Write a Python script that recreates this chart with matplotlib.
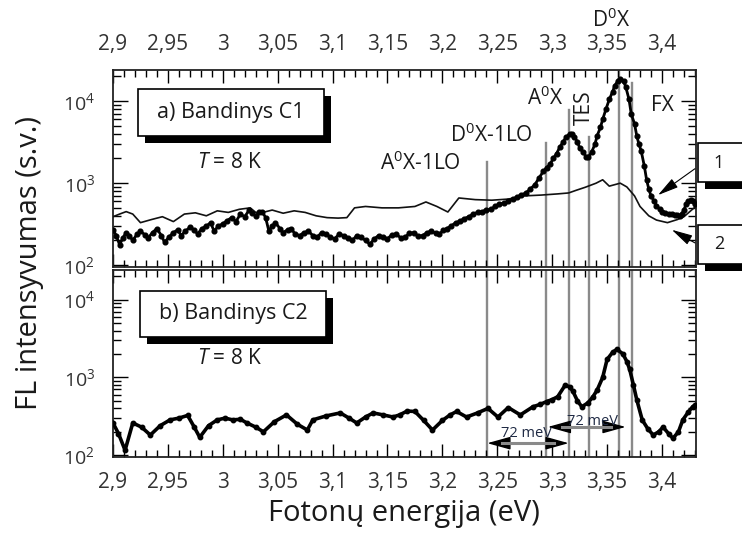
import numpy as np
import matplotlib.pyplot as plt
import matplotlib.transforms as mtransforms
from matplotlib.patches import Rectangle
from matplotlib.ticker import MultipleLocator, FuncFormatter, LogLocator, NullFormatter

plt.rcParams['font.family'] = ['Open Sans', 'DejaVu Sans']
plt.rcParams['mathtext.fontset'] = 'custom'
plt.rcParams['mathtext.rm'] = 'Open Sans'
plt.rcParams['mathtext.it'] = 'Open Sans:italic'
plt.rcParams['mathtext.default'] = 'regular'

# a) sample C1, curve 1 (dots)
c1_e = [2.900, 2.903, 2.906, 2.909, 2.912, 2.915, 2.918, 2.922, 2.925, 2.929, 2.932, 2.936,
        2.940, 2.944, 2.947, 2.951, 2.955, 2.959, 2.962, 2.966, 2.970, 2.974, 2.977, 2.981,
        2.985, 2.989, 2.992, 2.996, 3.000, 3.004, 3.008, 3.012, 3.016, 3.020, 3.024, 3.027,
        3.030, 3.033, 3.036, 3.039, 3.042, 3.045, 3.048, 3.052, 3.055, 3.059, 3.062, 3.066,
        3.070, 3.074, 3.078, 3.082, 3.086, 3.090, 3.094, 3.098, 3.102, 3.106, 3.110, 3.114,
        3.118, 3.122, 3.126, 3.130, 3.134, 3.138, 3.142, 3.146, 3.150, 3.154, 3.158, 3.162,
        3.166, 3.170, 3.174, 3.178, 3.182, 3.186, 3.190, 3.194, 3.197, 3.201, 3.204, 3.208,
        3.212, 3.216, 3.220, 3.224, 3.228, 3.232, 3.236, 3.240, 3.244, 3.248, 3.252, 3.256,
        3.260, 3.264, 3.268, 3.272, 3.276, 3.280, 3.284, 3.288, 3.292, 3.295, 3.298, 3.301,
        3.304, 3.307, 3.310, 3.313, 3.316, 3.318, 3.320, 3.323, 3.325, 3.328, 3.331, 3.333,
        3.336, 3.339, 3.341, 3.344, 3.346, 3.349, 3.352, 3.355, 3.357, 3.360, 3.362, 3.365,
        3.367, 3.370, 3.372, 3.375, 3.377, 3.379, 3.381, 3.384, 3.386, 3.388, 3.390, 3.393,
        3.395, 3.398, 3.400, 3.403, 3.406, 3.409, 3.412, 3.414, 3.416, 3.418, 3.420, 3.422,
        3.424, 3.426, 3.428, 3.430]
c1_i = [270, 230, 177, 215, 250, 230, 200, 240, 260, 235, 215, 250,
        280, 230, 190, 220, 250, 270, 230, 260, 290, 270, 240, 280,
        300, 330, 260, 300, 320, 350, 380, 340, 420, 390, 470, 430,
        400, 440, 450, 380, 260, 300, 330, 280, 250, 270, 280, 240,
        230, 250, 260, 230, 220, 250, 240, 220, 210, 240, 230, 215,
        200, 230, 220, 200, 180, 210, 230, 220, 210, 235, 240, 215,
        220, 245, 250, 225, 230, 250, 260, 245, 240, 265, 280, 300,
        330, 345, 370, 390, 420, 440, 450, 470, 480, 520, 560, 570,
        600, 640, 680, 720, 760, 850, 950, 1150, 1400, 1550, 1700, 2000,
        2300, 2750, 3200, 3700, 4000, 3950, 3700, 3200, 2700, 2400, 2100, 2080,
        2400, 3000, 3800, 4800, 6000, 8000, 10500, 13000, 15500, 17800, 18700, 17500,
        15000, 10500, 7000, 5300, 3800, 3000, 2500, 1600, 1100, 850, 700, 600,
        530, 480, 450, 430, 420, 415, 410, 405, 400, 420, 470, 560,
        600, 620, 610, 560]

# a) sample C1, curve 2 (thin line)
c1b_e = [2.900, 2.906, 2.912, 2.918, 2.925, 2.935, 2.945, 2.955, 2.965, 2.975, 2.985, 2.995,
         3.005, 3.015, 3.025, 3.030, 3.035, 3.045, 3.055, 3.065, 3.075, 3.085, 3.095, 3.105,
         3.113, 3.120, 3.130, 3.145, 3.160, 3.175, 3.185, 3.195, 3.205, 3.215, 3.230, 3.245,
         3.260, 3.275, 3.290, 3.305, 3.315, 3.322, 3.330, 3.340, 3.346, 3.352, 3.362, 3.368,
         3.375, 3.380, 3.388, 3.395, 3.405, 3.414, 3.420, 3.430]
c1b_i = [390, 420, 450, 420, 330, 360, 390, 340, 420, 435, 400, 460,
         440, 480, 500, 440, 435, 470, 430, 460, 440, 400, 380, 375,
         380, 500, 520, 500, 500, 520, 590, 520, 445, 660, 630, 620,
         640, 700, 716, 740, 760, 820, 890, 1000, 1100, 920, 1000, 900,
         700, 520, 400, 355, 330, 360, 390, 510]

# b) sample C2
c2_e = [2.900, 2.905, 2.911, 2.918, 2.926, 2.934, 2.943, 2.952, 2.960, 2.968, 2.974, 2.979,
        2.987, 2.995, 3.002, 3.009, 3.016, 3.022, 3.030, 3.037, 3.047, 3.058, 3.068, 3.077,
        3.082, 3.094, 3.107, 3.115, 3.122, 3.130, 3.137, 3.146, 3.155, 3.161, 3.168, 3.175,
        3.183, 3.191, 3.200, 3.207, 3.213, 3.222, 3.232, 3.2415, 3.2506, 3.260, 3.271, 3.2825,
        3.289, 3.295, 3.300, 3.305, 3.3117, 3.316, 3.319, 3.323, 3.327, 3.3325, 3.337, 3.341,
        3.346, 3.350, 3.355, 3.359, 3.3645, 3.368, 3.3706, 3.374, 3.377, 3.382, 3.387, 3.392,
        3.397, 3.401, 3.406, 3.410, 3.415, 3.419, 3.424, 3.428, 3.430]
c2_i = [260, 190, 116, 260, 230, 182, 240, 285, 300, 325, 230, 170,
        240, 285, 300, 285, 290, 260, 230, 200, 270, 330, 250, 211,
        285, 320, 350, 300, 260, 310, 350, 330, 310, 330, 370, 365,
        280, 211, 280, 330, 365, 310, 350, 400, 310, 410, 330, 420,
        450, 490, 520, 565, 790, 760, 660, 500, 420, 470, 560, 690,
        1000, 1700, 2100, 2300, 2000, 1600, 1270, 800, 520, 285, 220, 182,
        200, 230, 190, 165, 200, 285, 360, 420, 440]

# peak positions (eV) and their labels
line_e = [3.241, 3.294, 3.315, 3.3335, 3.361, 3.373]
peak_labels = ['A$^0$X-1LO', 'D$^0$X-1LO', 'A$^0$X', 'TES', 'D$^0$X', 'FX']

W, H = 742, 533
fig = plt.figure(figsize=(W / 100, H / 100), dpi=100)
ax1 = fig.add_axes([113 / W, (H - 267) / H, 583 / W, 197 / H])
ax2 = fig.add_axes([113 / W, (H - 457) / H, 583 / W, 187 / H])

xfmt = FuncFormatter(lambda v, p: f'{v:.2f}'.rstrip('0').rstrip('.').replace('.', ','))
yfmt = FuncFormatter(lambda v, p: f'$10^{{{int(round(np.log10(v)))}}}$')

for ax in (ax1, ax2):
    ax.set_yscale('log')
    ax.set_xlim(2.9, 3.431)
    ax.set_ylim(95, 2.4e4)
    ax.xaxis.set_major_locator(MultipleLocator(0.05))
    ax.xaxis.set_minor_locator(MultipleLocator(0.01))
    ax.xaxis.set_major_formatter(xfmt)
    ax.yaxis.set_major_locator(LogLocator(base=10))
    ax.yaxis.set_minor_locator(LogLocator(base=10, subs=np.arange(2, 10)))
    ax.yaxis.set_major_formatter(yfmt)
    ax.yaxis.set_minor_formatter(NullFormatter())
    ax.tick_params(which='both', direction='in', top=True, right=True, color='k', width=1)
    ax.tick_params(axis='x', which='major', length=9.5, pad=11, labelsize=15, labelcolor='#333333')
    ax.tick_params(axis='x', which='minor', length=5)
    ax.tick_params(axis='y', which='major', length=11, pad=13, labelsize=14, labelcolor='#333333')
    ax.tick_params(axis='y', which='minor', length=6)
    for s in ax.spines.values():
        s.set_linewidth(1.3)
        s.set_color('#222222')

ax1.tick_params(axis='x', labeltop=True, labelbottom=False)
ax2.tick_params(axis='x', labeltop=False, labelbottom=True)

# vertical peak lines
line_top = [0.533, 0.629, 0.797, 0.660, 1.0, 0.934]
for e, t in zip(line_e, line_top):
    ax1.axvline(e, ymin=0, ymax=t, color='#8a8a8a', lw=1.7, zorder=1)
    ax2.axvline(e, color='#8a8a8a', lw=1.7, zorder=1)

ax1.plot(c1b_e, c1b_i, '-', color='#111111', lw=1.2, zorder=3)
ax1.plot(c1_e, c1_i, '-o', color='k', lw=2.0, ms=3.4, zorder=4)
ax2.plot(c2_e, c2_i, '-o', color='k', lw=2.6, ms=3.2, zorder=4)

# peak labels
tr = mtransforms.blended_transform_factory(ax1.transData, ax1.transAxes)
label_pos = [(3.1796, 0.528, 0), (3.245, 0.670, 0), (3.2934, 0.858, 0),
             (3.329, 0.807, 90), (3.3536, 1.254, 0), (3.400, 0.822, 0)]
for lab, (x, y, rot) in zip(peak_labels, label_pos):
    ax1.text(x, y, lab, transform=tr, ha='center', va='center', fontsize=15,
             rotation=rot, color='#1a1a1a', clip_on=False)

ax1.text(0.2007, 0.528, '$\\mathit{T}$ = 8 K', transform=ax1.transAxes, ha='center',
         va='center', fontsize=15, color='#1a1a1a')
ax2.text(0.2007, 0.529, '$\\mathit{T}$ = 8 K', transform=ax2.transAxes, ha='center',
         va='center', fontsize=15, color='#1a1a1a')

# 72 meV arrows
for (xa, xb, ya, xt, yt) in [(3.2409, 3.315, 143, 3.277, 193), (3.296, 3.3669, 231, 3.337, 268)]:
    ax2.annotate('', xy=(xa, ya), xytext=(xb, ya),
                 arrowprops=dict(arrowstyle='<|-|>,head_length=0.9,head_width=0.25', color='k',
                                 lw=1.0, mutation_scale=16, shrinkA=0, shrinkB=0), zorder=5)
    ax2.plot([xa + 0.013, xb - 0.013], [ya, ya], color='#8a8a8a', lw=2.2, zorder=6)
    ax2.text(xt, yt, '72 meV', ha='center', va='center', fontsize=10.5, color='#1f2a44', zorder=7)

# arrows from the curve number boxes
for tip, tail in [((3.3964, 716), (3.430, 1500)), ((3.409, 270), (3.430, 187))]:
    ax1.annotate('', xy=tip, xytext=tail,
                 arrowprops=dict(arrowstyle='-|>,head_length=0.8,head_width=0.2', color='k',
                                 lw=0.8, mutation_scale=16, shrinkA=0, shrinkB=0),
                 annotation_clip=False)


def shadow_box(x0, y0, x1, y1, text, fs, cx, off=7):
    fig.add_artist(Rectangle(((x0 + off) / W, (H - y1 - off) / H), (x1 - x0) / W, (y1 - y0) / H,
                             transform=fig.transFigure, fc='k', ec='none', zorder=5))
    fig.add_artist(Rectangle((x0 / W, (H - y1) / H), (x1 - x0) / W, (y1 - y0) / H,
                             transform=fig.transFigure, fc='white', ec='k', lw=1.2, zorder=6))
    fig.text(cx / W, (H - (y0 + y1) / 2) / H, text, ha='center', va='center',
             fontsize=fs, color='#1a1a1a', zorder=7)


shadow_box(138, 89, 324, 136, 'a) Bandinys C1', 15.5, 231)
shadow_box(140, 291, 326, 337, 'b) Bandinys C2', 15.5, 233)
shadow_box(698, 143, 760, 182, '1', 13, 719)
shadow_box(698, 225, 760, 264, '2', 13, 719)

fig.text(30 / W, (H - 263) / H, 'FL intensyvumas (s.v.)', rotation=90, ha='center',
         va='center', fontsize=21, color='#1a1a1a')
fig.text(404 / W, (H - 513) / H, 'Fotonų energija (eV)', ha='center', va='center',
         fontsize=21, color='#1a1a1a')

fig.savefig('out.png', dpi=100)
